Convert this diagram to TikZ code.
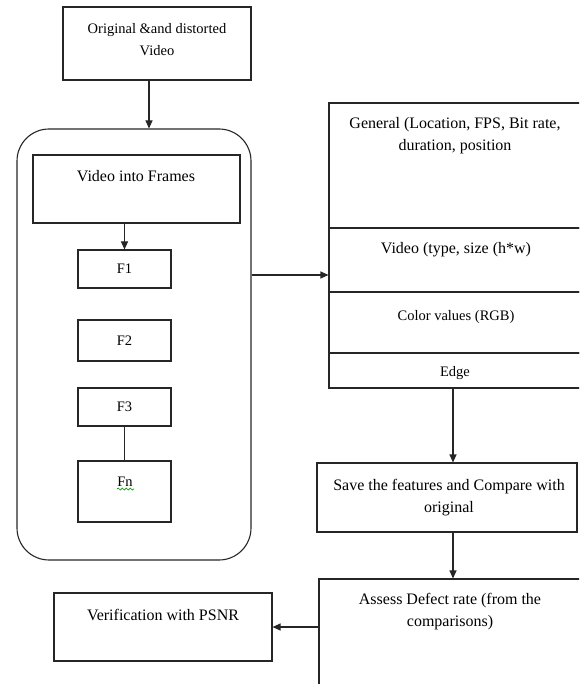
\documentclass[tikz,border=0pt]{standalone}
\usepackage{fontspec}
\setmainfont{Liberation Serif}
\usetikzlibrary{arrows.meta,decorations.pathmorphing}
\begin{document}
\begin{tikzpicture}[x=1pt,y=-1pt,
  box/.style={draw=black!85, line width=1.1pt, rectangle, inner sep=0pt},
  txt/.style={align=center, inner sep=0pt, font=\fontsize{16}{22}\selectfont},
  stxt/.style={align=center, inner sep=0pt, font=\fontsize{14.5}{22}\selectfont},
  arr/.style={draw=black!85, line width=1.1pt, -{Triangle[length=8pt,width=7pt]}},
  ln/.style={draw=black!85, line width=1.1pt}]
\useasboundingbox (0,0) rectangle (579,684);
\clip (0,0) rectangle (579,684);
% left column
\node[box, minimum width=188pt, minimum height=73pt] (orig) at (157,43.5) {};
\node[stxt] (origt) at (157,40) {Original \&and distorted\\Video};
\node[box, rounded corners=32pt, minimum width=234pt, minimum height=431pt] (grp) at (134,344.5) {};
\node[box, minimum width=207pt, minimum height=68pt] (vif) at (136.5,189) {};
\node[txt] (vift) at (136,176) {Video into Frames};
\node[box, minimum width=93pt, minimum height=38pt] (f1) at (124.5,269) {};
\node[stxt] (f1t) at (124.5,269) {F1};
\node[box, minimum width=93pt, minimum height=41pt] (f2) at (124.5,340.5) {};
\node[stxt] (f2t) at (124.5,340.5) {F2};
\node[box, minimum width=93pt, minimum height=38pt] (f3) at (124.5,407) {};
\node[stxt] (f3t) at (124.5,407) {F3};
\node[box, minimum width=93pt, minimum height=61pt] (fn) at (124.5,491.5) {};
\node[stxt] (fnt) at (125,482) {Fn};
\draw[green!60!black, line width=0.7pt, decorate, decoration={snake, amplitude=1pt, segment length=4pt}] (117,489) -- (134,489);
% right column
\node[box, minimum width=261pt, minimum height=125pt] (gen) at (459.5,165.5) {};
\node[txt] (gent) at (455,136) {General (Location, FPS, Bit rate,\\duration, position};
\node[box, minimum width=261pt, minimum height=64pt] (vid) at (459.5,260) {};
\node[txt] (vidt) at (456,250) {Video (type, size (h*w)};
\node[box, minimum width=261pt, minimum height=61pt] (col) at (459.5,322.5) {};
\node[stxt] (colt) at (456,317) {Color values (RGB)};
\node[box, minimum width=261pt, minimum height=35pt] (edge) at (459.5,370.5) {};
\node[stxt] (edget) at (455,373) {Edge};
\node[box, minimum width=260pt, minimum height=69pt] (save) at (447,497.5) {};
\node[txt] (savet) at (449,497.5) {Save the features and Compare with\\original};
\node[box, minimum width=271pt, minimum height=121pt] (assess) at (454.5,639.5) {};
\node[txt] (assesst) at (450,612) {Assess Defect rate (from the\\comparisons)};
\node[box, minimum width=218pt, minimum height=68pt] (ver) at (163,627) {};
\node[txt] (vert) at (163,615) {Verification with PSNR};
% connectors
\coordinate (xa) at (149,0);
\coordinate (xb) at (453,0);
\coordinate (ya) at (0,275);
\draw[arr] (orig.south -| xa) -- (grp.north -| xa);
\draw[arr] (vif.south -| f1.north) -- (f1.north);
\draw[ln] (f3.south) -- (fn.north);
\draw[arr] (grp.east |- ya) -- (vid.west |- ya);
\draw[arr] (edge.south -| xb) -- (save.north -| xb);
\draw[arr] (save.south -| xb) -- (assess.north -| xb);
\draw[arr] (assess.west |- ver.east) -- (ver.east);
\end{tikzpicture}
\end{document}
